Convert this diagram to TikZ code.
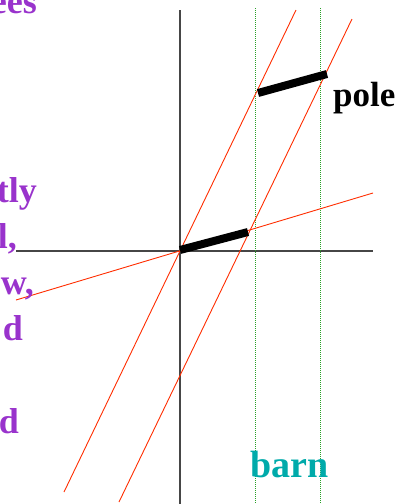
\documentclass[tikz,border=0pt]{standalone}
\usepackage{fontspec}
\setmainfont{Liberation Serif}
\definecolor{purp}{RGB}{153,51,204}
\definecolor{barnc}{RGB}{0,170,170}
\definecolor{redl}{RGB}{255,45,0}
\definecolor{greenl}{RGB}{40,160,40}
\definecolor{axisc}{RGB}{70,70,70}
\begin{document}
\begin{tikzpicture}[x=1pt,y=-1pt,
  axisline/.style={draw=axisc,line width=1.4pt},
  worldline/.style={draw=redl,line width=0.9pt},
  barnline/.style={draw=greenl,line width=1pt,densely dotted},
  polebar/.style={draw=black,line width=8pt},
  sidetext/.style={text=purp,font=\fontsize{36}{42}\selectfont\bfseries,anchor=base east,inner sep=0pt},
  lbl/.style={font=\bfseries,anchor=base west,inner sep=0pt}]
\useasboundingbox (0,0) rectangle (401,504);
% axes
\coordinate (O) at (180,251);
\coordinate (xl) at (16,251);
\coordinate (xr) at (373,251);
\coordinate (yt) at (180,10);
\coordinate (yb) at (180,505);
\draw[axisline] (xl) -- (xr);
\draw[axisline] (yt) -- (yb);
% barn ends
\coordinate (b1t) at (255,8);
\coordinate (b1b) at (255,505);
\coordinate (b2t) at (320,8);
\coordinate (b2b) at (320,505);
\draw[barnline] (b1t) -- (b1b);
\draw[barnline] (b2t) -- (b2b);
% pole ends world lines
\coordinate (r1b) at (64,492);
\coordinate (r1t) at (296,10);
\coordinate (r2b) at (119,502);
\coordinate (r2t) at (352,19);
\draw[worldline] (r1b) -- (r1t);
\draw[worldline] (r2b) -- (r2t);
% pole's x' axis
\coordinate (xpl) at (16,300);
\coordinate (xpr) at (373,193);
\draw[worldline] (xpl) -- (xpr);
% poles
\coordinate (p1a) at (180,250);
\coordinate (p1b) at (248,232);
\coordinate (p2a) at (258,93);
\coordinate (p2b) at (327,74);
\draw[polebar] (p1a) -- (p1b);
\draw[polebar] (p2a) -- (p2b);
% labels
\node[lbl,font=\fontsize{35}{40}\selectfont\bfseries] (pole) at (333,106) {pole};
\node[lbl,text=barnc,font=\fontsize{38}{44}\selectfont\bfseries] (barn) at (250,477) {barn};
% clipped side text
\node[sidetext] (s1) at (37,13) {ees};
\node[sidetext] (s2) at (37,202) {tly};
\node[sidetext] (s3) at (17,248) {l,};
\node[sidetext] (s4) at (34,294) {w,};
\node[sidetext] (s5) at (23,340) {d};
\node[sidetext] (s6) at (19,433) {d};
\end{tikzpicture}
\end{document}
